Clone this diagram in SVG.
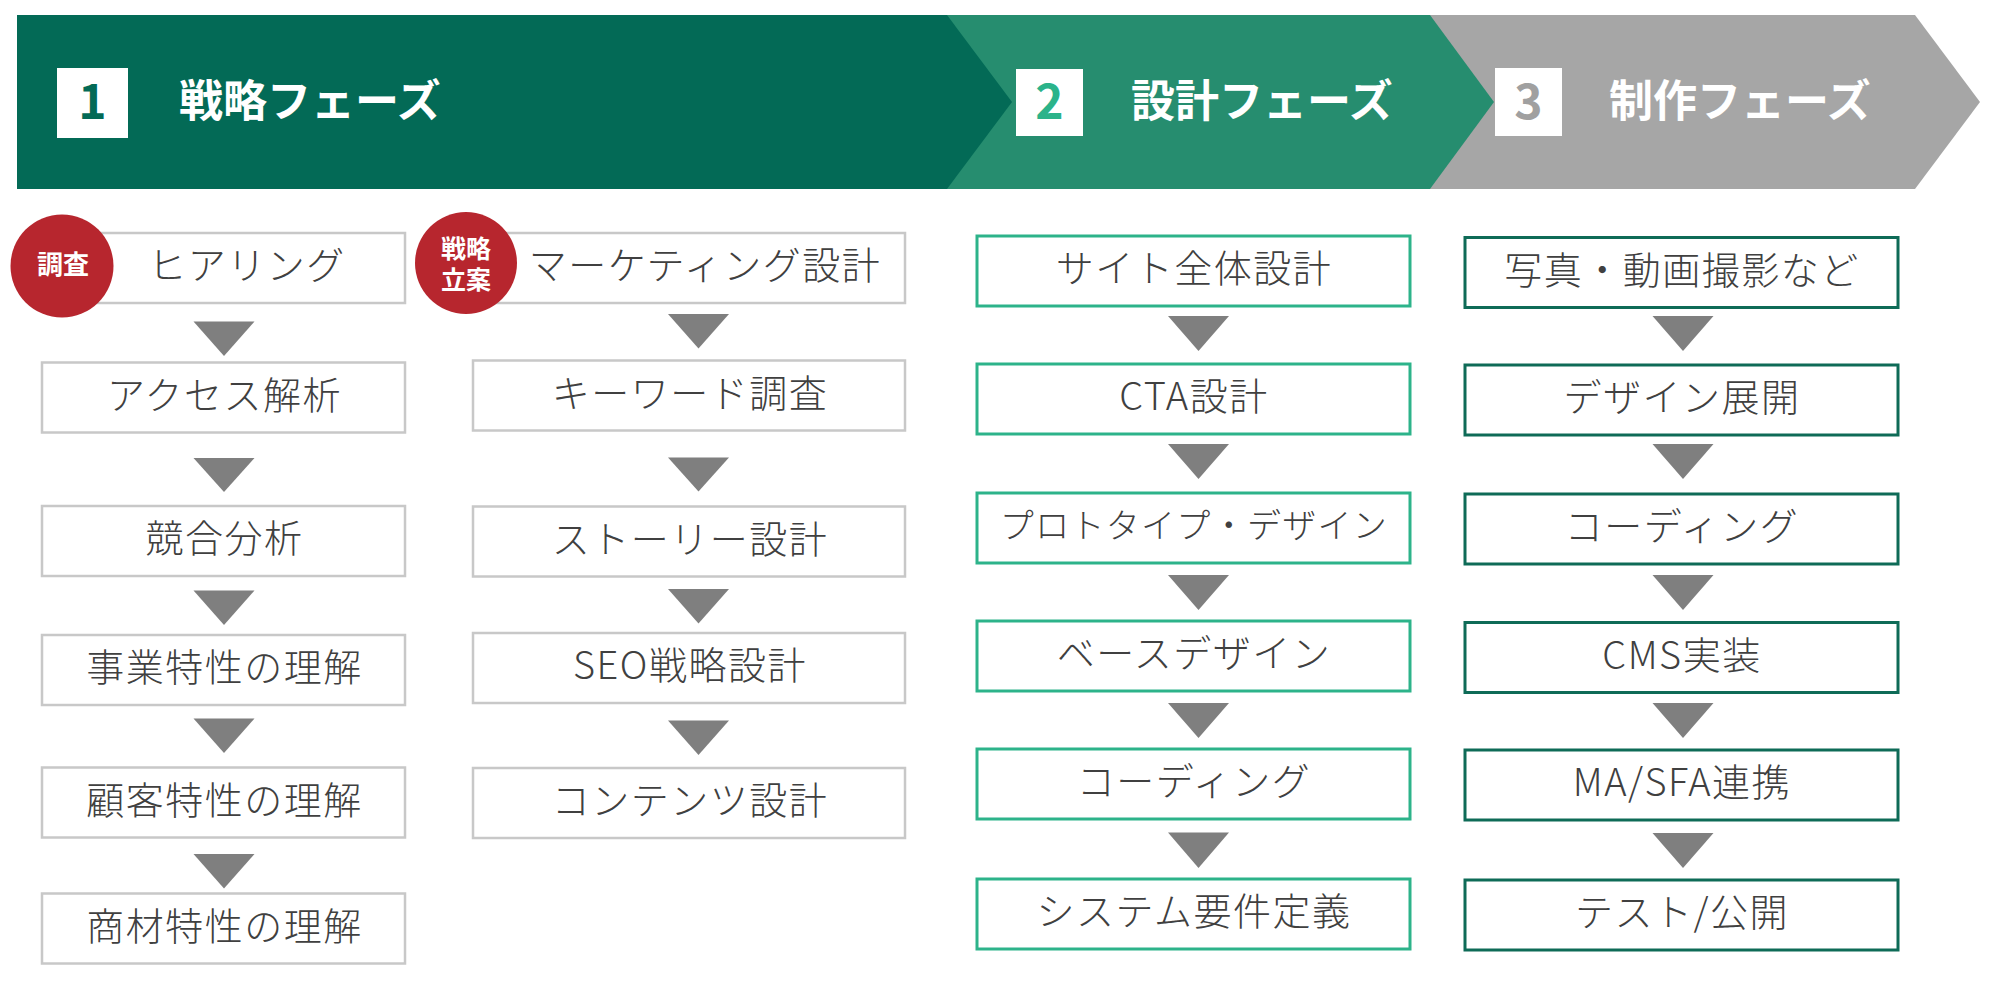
<svg xmlns="http://www.w3.org/2000/svg" width="2000" height="981" viewBox="0 0 2000 981">
<style>
text{font-family:"Noto Sans CJK JP","Noto Sans",sans-serif}
.b1{fill:#fff;stroke:#c8c8c8;stroke-width:2.5}
.b3{fill:#fff;stroke:#2db38a;stroke-width:3}
.b4{fill:#fff;stroke:#0e6b57;stroke-width:3}
.lbl{font-size:38px;fill:#404040;text-anchor:middle;letter-spacing:1.5px;font-weight:300}
.sm{font-size:34px;letter-spacing:1.3px}
.arr{fill:#7f7f7f}
.badge{fill:#b7262e}
.btxt{font-weight:bold;fill:#fff;text-anchor:middle}
.title{font-weight:bold;fill:#fff;font-size:44px}
.num{font-weight:bold;font-size:48px;text-anchor:middle}
.nbox{fill:#fff}
</style>
<rect width="2000" height="981" fill="#fff"/>
<g id="phase3">
<polygon points="1430,15 1915,15 1980,102 1915,189 1430,189" fill="#a6a6a6"/>
<rect class="nbox" x="1495" y="68" width="67" height="68"/>
<text class="num" x="1528.5" y="119" fill="#a0a0a0">3</text>
<text class="title" x="1609" y="117">制作フェーズ</text>
</g>
<g id="phase2">
<polygon points="947,15 1430,15 1494,102 1430,189 947,189" fill="#268d6f"/>
<rect class="nbox" x="1016" y="69" width="67" height="67"/>
<text class="num" x="1049.5" y="119" fill="#2bb38a">2</text>
<text class="title" x="1131" y="117">設計フェーズ</text>
</g>
<g id="phase1">
<polygon points="17,15 947,15 1012,102 947,189 17,189" fill="#036a56"/>
<rect class="nbox" x="57" y="68" width="71" height="70"/>
<text class="num" x="92.5" y="119" fill="#036a56">1</text>
<text class="title" x="179" y="117">戦略フェーズ</text>
</g>

<g id="connectors">
<polygon class="arr" points="193.5,321.5 254.5,321.5 224,356"/>
<polygon class="arr" points="193.5,458 254.5,458 224,492"/>
<polygon class="arr" points="193.5,590.5 254.5,590.5 224,625"/>
<polygon class="arr" points="193.5,718.5 254.5,718.5 224,753"/>
<polygon class="arr" points="193.5,854 254.5,854 224,888.5"/>

<polygon class="arr" points="668,314 729,314 698.5,348.5"/>
<polygon class="arr" points="668,457.5 729,457.5 698.5,491.5"/>
<polygon class="arr" points="668,589 729,589 698.5,623.5"/>
<polygon class="arr" points="668,720.5 729,720.5 698.5,755"/>

<polygon class="arr" points="1168,316 1229,316 1198.5,351"/>
<polygon class="arr" points="1168,444 1229,444 1198.5,479"/>
<polygon class="arr" points="1168,575 1229,575 1198.5,610"/>
<polygon class="arr" points="1168,703 1229,703 1198.5,738"/>
<polygon class="arr" points="1168,832.5 1229,832.5 1198.5,868"/>

<polygon class="arr" points="1652.5,316 1713.5,316 1683,351"/>
<polygon class="arr" points="1652.5,444 1713.5,444 1683,479"/>
<polygon class="arr" points="1652.5,575 1713.5,575 1683,610"/>
<polygon class="arr" points="1652.5,703 1713.5,703 1683,738"/>
<polygon class="arr" points="1652.5,833 1713.5,833 1683,868"/>
</g>

<g id="c1-hearing"><rect class="b1" x="42" y="233" width="363" height="70"/><text class="lbl" x="247" y="279">ヒアリング</text></g>
<g id="c1-access"><rect class="b1" x="42" y="362.5" width="363" height="70"/><text class="lbl" x="224.5" y="408.5">アクセス解析</text></g>
<g id="c1-competitor"><rect class="b1" x="42" y="506" width="363" height="70"/><text class="lbl" x="224.5" y="552">競合分析</text></g>
<g id="c1-business"><rect class="b1" x="42" y="635" width="363" height="70"/><text class="lbl" x="224.5" y="681">事業特性の理解</text></g>
<g id="c1-customer"><rect class="b1" x="42" y="767.5" width="363" height="70"/><text class="lbl" x="224.5" y="813.5">顧客特性の理解</text></g>
<g id="c1-product"><rect class="b1" x="42" y="893.5" width="363" height="70"/><text class="lbl" x="224.5" y="939.5">商材特性の理解</text></g>

<g id="c2-marketing"><rect class="b1" x="473" y="233" width="432" height="70"/><text class="lbl" x="705" y="279">マーケティング設計</text></g>
<g id="c2-keyword"><rect class="b1" x="473" y="360.5" width="432" height="70"/><text class="lbl" x="690" y="406.5">キーワード調査</text></g>
<g id="c2-story"><rect class="b1" x="473" y="506.5" width="432" height="70"/><text class="lbl" x="690" y="552.5">ストーリー設計</text></g>
<g id="c2-seo"><rect class="b1" x="473" y="633" width="432" height="70"/><text class="lbl" x="690" y="679">SEO戦略設計</text></g>
<g id="c2-contents"><rect class="b1" x="473" y="768" width="432" height="70"/><text class="lbl" x="690" y="814">コンテンツ設計</text></g>

<g id="badge-research"><circle class="badge" cx="62" cy="266" r="51.5"/><text class="btxt" x="63" y="274" font-size="26">調査</text></g>
<g id="badge-strategy"><circle class="badge" cx="466" cy="263" r="51"/><text class="btxt" x="466" y="258" font-size="25">戦略</text><text class="btxt" x="466" y="289" font-size="25">立案</text></g>

<g id="c3-site"><rect class="b3" x="977" y="236" width="433" height="70"/><text class="lbl" x="1194" y="282">サイト全体設計</text></g>
<g id="c3-cta"><rect class="b3" x="977" y="364" width="433" height="70"/><text class="lbl" x="1194" y="410">CTA設計</text></g>
<g id="c3-proto"><rect class="b3" x="977" y="493" width="433" height="70"/><text class="lbl sm" x="1194" y="538">プロトタイプ・デザイン</text></g>
<g id="c3-base"><rect class="b3" x="977" y="621" width="433" height="70"/><text class="lbl" x="1194" y="667">ベースデザイン</text></g>
<g id="c3-coding"><rect class="b3" x="977" y="749" width="433" height="70"/><text class="lbl" x="1194" y="795">コーディング</text></g>
<g id="c3-system"><rect class="b3" x="977" y="879" width="433" height="70"/><text class="lbl" x="1194" y="925">システム要件定義</text></g>

<g id="c4-photo"><rect class="b4" x="1465" y="237.5" width="433" height="70"/><text class="lbl" x="1682" y="283.5">写真・動画撮影など</text></g>
<g id="c4-design"><rect class="b4" x="1465" y="365" width="433" height="70"/><text class="lbl" x="1682" y="411">デザイン展開</text></g>
<g id="c4-coding"><rect class="b4" x="1465" y="494" width="433" height="70"/><text class="lbl" x="1682" y="540">コーディング</text></g>
<g id="c4-cms"><rect class="b4" x="1465" y="622.5" width="433" height="70"/><text class="lbl" x="1682" y="668.5">CMS実装</text></g>
<g id="c4-masfa"><rect class="b4" x="1465" y="750" width="433" height="70"/><text class="lbl" x="1682" y="796">MA/SFA連携</text></g>
<g id="c4-test"><rect class="b4" x="1465" y="880" width="433" height="70"/><text class="lbl" x="1682" y="926">テスト/公開</text></g>
</svg>
